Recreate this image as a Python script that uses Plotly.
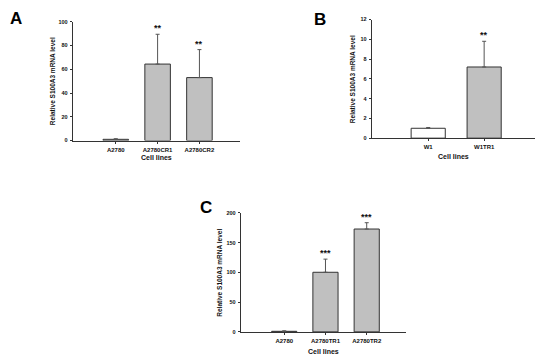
import plotly.graph_objects as go

# Panel A
a_cats = ["A2780", "A2780CR1", "A2780CR2"]
a_vals = [1.0, 64.4, 53.0]
a_errs = [0.5, 25.1, 23.6]
a_sig = ["", "**", "**"]
a_fill = ["#c0c0c0", "#c0c0c0", "#c0c0c0"]
a_yticks = [0, 20, 40, 60, 80, 100]

# Panel B
b_cats = ["W1", "W1TR1"]
b_vals = [1.0, 7.2]
b_errs = [0.08, 2.6]
b_sig = ["", "**"]
b_fill = ["#ffffff", "#c0c0c0"]
b_yticks = [0, 2, 4, 6, 8, 10, 12]

# Panel C
c_cats = ["A2780", "A2780TR1", "A2780TR2"]
c_vals = [1.0, 100.2, 172.9]
c_errs = [0.8, 22.1, 10.6]
c_sig = ["", "***", "***"]
c_fill = ["#c0c0c0", "#c0c0c0", "#c0c0c0"]
c_yticks = [0, 50, 100, 150, 200]

W, H = 550, 362
OFF = 8  # page body margin offset
FONT = "Liberation Sans, Arial, sans-serif"
TXT = "#111111"
LINE = "#333333"


def px(v):
    return v - OFF


panels = [
    dict(cats=a_cats, vals=a_vals, errs=a_errs, sig=a_sig, fill=a_fill, yticks=a_yticks,
         xr=[-1.03, 2.97], yr=[0, 100], xd=[72.7, 240.0], yd=[139.7, 19.0],
         letter="A", lpos=(16, 16), ytitle_x=52, xtitle_y=157, ax=""),
    dict(cats=b_cats, vals=b_vals, errs=b_errs, sig=b_sig, fill=b_fill, yticks=b_yticks,
         xr=[-1.01, 1.9], yr=[0, 12], xd=[371.7, 534.5], yd=[137.3, 16.7],
         letter="B", lpos=(320, 17), ytitle_x=353.3, xtitle_y=155.5, ax="2"),
    dict(cats=c_cats, vals=c_vals, errs=c_errs, sig=c_sig, fill=c_fill, yticks=c_yticks,
         xr=[-1.055, 2.95], yr=[0, 200], xd=[240.7, 405.9], yd=[334.3, 213.3],
         letter="C", lpos=(206, 208), ytitle_x=219.3, xtitle_y=354.5, ax="3"),
]

fig = go.Figure()
annotations = []
layout = dict(width=W, height=H, margin=dict(l=0, r=0, t=0, b=0),
              plot_bgcolor="white", paper_bgcolor="white", showlegend=False,
              font=dict(family=FONT, color=TXT))

for p in panels:
    xa = "x" + p["ax"]
    ya = "y" + p["ax"]
    fig.add_trace(go.Bar(
        x=p["cats"], y=p["vals"], xaxis=xa, yaxis=ya, width=0.61,
        marker=dict(color=p["fill"], line=dict(color=LINE, width=1)),
        error_y=dict(type="data", symmetric=False, array=p["errs"],
                     arrayminus=[0] * len(p["errs"]), color="#555555",
                     thickness=1, width=2),
        hoverinfo="skip",
    ))
    axis_common = dict(showline=True, linecolor=LINE, linewidth=1, ticks="outside",
                       ticklen=2, tickcolor=LINE, showgrid=False, zeroline=False)
    layout["xaxis" + p["ax"]] = dict(
        axis_common, domain=[px(p["xd"][0]) / W, px(p["xd"][1]) / W], range=p["xr"],
        type="category", anchor=ya,
        tickfont=dict(size=6, family=FONT, color=TXT, weight="bold"),
        ticklabelstandoff=1)
    layout["yaxis" + p["ax"]] = dict(
        axis_common, domain=[1 - px(p["yd"][0]) / H, 1 - px(p["yd"][1]) / H], range=p["yr"],
        tickvals=p["yticks"], anchor=xa,
        tickfont=dict(size=5.5, family=FONT, color=TXT, weight="bold"),
        ticklabelstandoff=1)
    # significance stars
    for c, v, e, s in zip(p["cats"], p["vals"], p["errs"], p["sig"]):
        if s:
            annotations.append(dict(x=c, y=v + e, xref=xa, yref=ya, text="<b>" + s + "</b>",
                                    showarrow=False, yanchor="bottom", yshift=-1,
                                    font=dict(size=9, color=TXT, family=FONT)))
    # panel letter
    annotations.append(dict(x=px(p["lpos"][0]) / W, y=1 - px(p["lpos"][1]) / H,
                            xref="paper", yref="paper",
                            text="<b>" + p["letter"] + "</b>", showarrow=False,
                            xanchor="center", yanchor="middle",
                            font=dict(size=17, color="#000000", family=FONT)))
    # y title
    annotations.append(dict(x=px(p["ytitle_x"]) / W,
                            y=1 - px((p["yd"][0] + p["yd"][1]) / 2) / H,
                            xref="paper", yref="paper", text="<b>Relative S100A3 mRNA level</b>",
                            textangle=-90, showarrow=False, xanchor="center", yanchor="middle",
                            font=dict(size=6.5, color=TXT, family=FONT)))
    # x title
    annotations.append(dict(x=px((p["xd"][0] + p["xd"][1]) / 2) / W,
                            y=1 - px(p["xtitle_y"]) / H,
                            xref="paper", yref="paper", text="<b>Cell lines</b>",
                            showarrow=False, xanchor="center", yanchor="middle",
                            font=dict(size=7, color=TXT, family=FONT)))

layout["annotations"] = annotations
fig.update_layout(**layout)
fig.write_html("out.html")
